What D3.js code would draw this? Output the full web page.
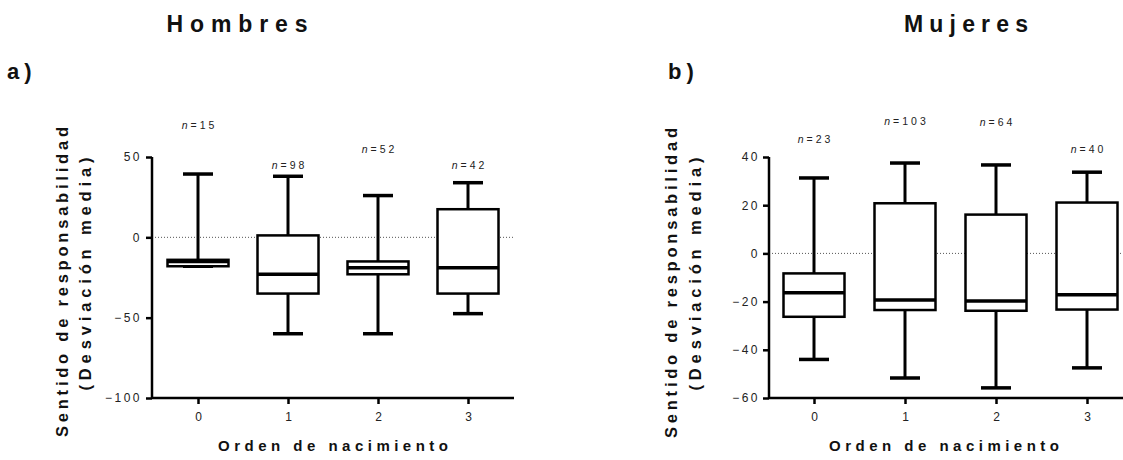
<!DOCTYPE html>
<html><head><meta charset="utf-8">
<script src="https://cdn.jsdelivr.net/npm/d3@7"></script>
<style>body{margin:0;background:#fff}svg{font-family:"Liberation Sans",Arial,sans-serif}</style>
</head><body>
<svg id="c" width="1123" height="460"></svg>
<script>
const categories = ["0","1","2","3"];
// Hombres: [min, q1, median, q3, max]
const hombresMin = [-18, -60, -60, -47.5];
const hombresQ1 = [-18, -35, -23, -35];
const hombresMed = [-15, -23, -19, -19];
const hombresQ3 = [-14, 1.2, -15, 17.5];
const hombresMax = [39.4, 38, 26, 34];
const hombresN = ["15","98","52","42"];
const hombresTicks = [50, 0, -50, -100];
// Mujeres
const mujeresMin = [-44, -51.7, -55.8, -47.5];
const mujeresQ1 = [-26.3, -23.5, -23.8, -23.3];
const mujeresMed = [-16.3, -19.3, -19.7, -17.2];
const mujeresQ3 = [-8.3, 20.8, 16.1, 21.1];
const mujeresMax = [31.3, 37.5, 36.7, 33.7];
const mujeresN = ["23","103","64","40"];
const mujeresTicks = [40, 20, 0, -20, -40, -60];

const svg = d3.select("#c");
const FF = "'Liberation Sans',Arial,sans-serif";

function panel(o){
  const g = svg.append("g");
  const y = d3.scaleLinear().domain(o.domain).range([o.y0, o.y1]);
  const x = d3.scalePoint().domain(categories).range([o.x0c, o.x3c]);
  // zero line
  g.append("line").attr("x1", o.ax).attr("x2", o.axEnd).attr("y1", y(0)).attr("y2", y(0))
    .attr("stroke", "#555").attr("stroke-width", 1).attr("stroke-dasharray", "1,2");
  // y axis
  const ya = g.append("g").attr("transform", `translate(${o.ax},0)`)
    .call(d3.axisLeft(y).tickValues(o.ticks).tickSize(6).tickPadding(o.tpad).tickFormat(d3.format("d")));
  ya.select(".domain").attr("stroke-width", 2.5).attr("d", `M-0,${o.y0}V${o.y1}`);
  ya.selectAll(".tick line").attr("stroke-width", 2.5);
  ya.selectAll(".tick text").attr("font-size", 12).attr("letter-spacing", "2.5px").attr("fill", "#222")
    .attr("font-family", FF);
  // x axis
  const xa = g.append("g").attr("transform", `translate(0,${o.y0})`)
    .call(d3.axisBottom(x).tickSize(6).tickPadding(8));
  xa.select(".domain").attr("stroke-width", 2.5).attr("d", `M${o.ax},0H${o.axEnd}`);
  xa.selectAll(".tick line").attr("stroke-width", 2.5);
  xa.selectAll(".tick text").attr("font-size", 12).attr("fill", "#222").attr("font-family", FF);
  const bw = 61, cw = 30;
  categories.forEach((c, i) => {
    const cx = x(c);
    const bg = g.append("g").attr("stroke", "#000").attr("fill", "none");
    bg.append("line").attr("x1", cx).attr("x2", cx).attr("y1", y(o.max[i])).attr("y2", y(o.q3[i])).attr("stroke-width", 3);
    bg.append("line").attr("x1", cx).attr("x2", cx).attr("y1", y(o.q1[i])).attr("y2", y(o.min[i])).attr("stroke-width", 3);
    bg.append("line").attr("x1", cx-cw/2).attr("x2", cx+cw/2).attr("y1", y(o.max[i])).attr("y2", y(o.max[i])).attr("stroke-width", 3.5);
    bg.append("line").attr("x1", cx-cw/2).attr("x2", cx+cw/2).attr("y1", y(o.min[i])).attr("y2", y(o.min[i])).attr("stroke-width", 3.5);
    bg.append("rect").attr("x", cx-bw/2).attr("width", bw).attr("y", y(o.q3[i])).attr("height", y(o.q1[i])-y(o.q3[i]))
      .attr("fill", "#fff").attr("stroke-width", 2.5);
    bg.append("line").attr("x1", cx-bw/2).attr("x2", cx+bw/2).attr("y1", y(o.med[i])).attr("y2", y(o.med[i])).attr("stroke-width", 3.5);
    const t = g.append("text").attr("x", cx+1.5).attr("y", o.nY[i]).attr("text-anchor", "middle")
      .attr("font-size", 10.5).attr("fill", "#222").attr("letter-spacing", "3px");
    t.append("tspan").attr("font-style", "italic").text("n");
    t.append("tspan").text("=" + o.n[i]);
  });
  // y label (two lines)
  const yl = [["Sentido de responsabilidad", o.yl1x, 310, o.yl1c], ["(Desviación media)", o.yl2x, 233, o.yl2c]];
  yl.forEach(([txt, bx, len, cy]) => {
    g.append("text").attr("transform", `translate(${bx},${cy}) rotate(-90)`)
      .attr("text-anchor", "middle").attr("font-weight", "bold").attr("font-size", 16.5)
      .attr("textLength", len).attr("lengthAdjust", "spacing").attr("fill", "#111").text(txt);
  });
  g.append("text").attr("x", o.xlx).attr("y", 451).attr("text-anchor", "middle").attr("font-weight", "bold")
    .attr("font-size", 15).attr("textLength", 230).attr("lengthAdjust", "spacing").attr("fill", "#111").text("Orden de nacimiento");
  g.append("text").attr("x", o.tx).attr("y", 32).attr("text-anchor", "middle").attr("font-weight", "bold")
    .attr("font-size", 23).attr("textLength", o.tlen).attr("lengthAdjust", "spacing").attr("fill", "#111").text(o.title);
  g.append("text").attr("x", o.lx).attr("y", 79).attr("font-weight", "bold")
    .attr("font-size", 22).attr("letter-spacing", "5px").attr("fill", "#111").text(o.letter);
}

panel({domain:[-100,50], y0:398, y1:157, x0c:198, x3c:468, ax:152, axEnd:514, ticks:hombresTicks, tpad:4,
  min:hombresMin, q1:hombresQ1, med:hombresMed, q3:hombresQ3, max:hombresMax, n:hombresN,
  nY:[129,169,153,169], yl1x:68, yl1c:282, yl2x:91, yl2c:274, xlx:333, tx:237, tlen:141, title:"Hombres", lx:7, letter:"a)"});
panel({domain:[-60,40], y0:398, y1:157, x0c:814, x3c:1087, ax:769, axEnd:1123, ticks:mujeresTicks, tpad:3,
  min:mujeresMin, q1:mujeresQ1, med:mujeresMed, q3:mujeresQ3, max:mujeresMax, n:mujeresN,
  nY:[143,125,126,153], yl1x:677, yl1c:283, yl2x:701, yl2c:274, xlx:944, tx:966, tlen:124, title:"Mujeres", lx:668, letter:"b)"});
</script>
</body></html>
